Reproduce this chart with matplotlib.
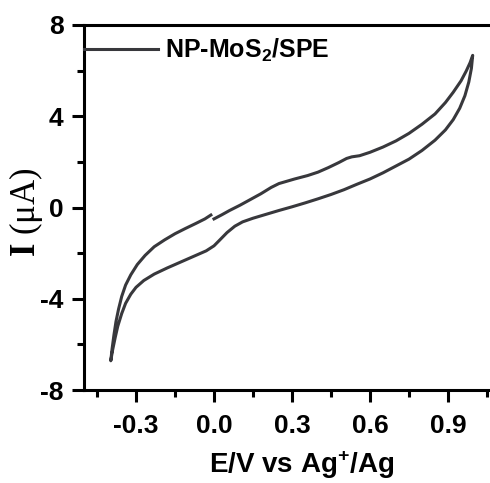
import matplotlib
matplotlib.use("Agg")
import matplotlib.pyplot as plt
from matplotlib.ticker import MultipleLocator, FormatStrFormatter

plt.rcParams['font.family'] = ['Liberation Sans', 'DejaVu Sans']
plt.rcParams['font.weight'] = 'bold'
plt.rcParams['mathtext.fontset'] = 'custom'
plt.rcParams['mathtext.rm'] = 'Liberation Serif'
plt.rcParams['mathtext.bf'] = 'Liberation Serif:bold'
plt.rcParams['mathtext.sf'] = 'Liberation Sans:bold'

# Cyclic voltammogram, one continuous scan (start at 0 V -> 1.0 V -> -0.4 V -> 0 V)
forward_E = [0.00, 0.03, 0.06, 0.10, 0.14, 0.18, 0.22, 0.25, 0.28, 0.31, 0.36,
             0.40, 0.44, 0.48, 0.51, 0.53, 0.56, 0.60, 0.65, 0.70, 0.75, 0.80,
             0.85, 0.89, 0.92, 0.95, 0.97, 0.985, 0.995]
forward_I = [-0.50, -0.32, -0.13, 0.10, 0.35, 0.60, 0.88, 1.05, 1.15, 1.25, 1.40,
             1.55, 1.75, 1.97, 2.15, 2.22, 2.27, 2.42, 2.65, 2.92, 3.25, 3.65,
             4.10, 4.60, 5.05, 5.55, 5.98, 6.35, 6.67]
reverse_E = [0.99, 0.98, 0.965, 0.945, 0.92, 0.89, 0.85, 0.80, 0.75, 0.70, 0.65,
             0.60, 0.55, 0.50, 0.45, 0.40, 0.35, 0.30, 0.25, 0.20, 0.15, 0.11,
             0.08, 0.05, 0.02, 0.00, -0.03, -0.08, -0.13, -0.18, -0.23, -0.27,
             -0.30, -0.32, -0.34, -0.355, -0.37, -0.38, -0.39, -0.397]
reverse_I = [6.10, 5.50, 4.90, 4.35, 3.85, 3.40, 2.95, 2.50, 2.12, 1.82, 1.52,
             1.25, 1.02, 0.78, 0.57, 0.38, 0.20, 0.03, -0.13, -0.30, -0.47, -0.63,
             -0.82, -1.10, -1.45, -1.68, -1.90, -2.15, -2.40, -2.65, -2.92, -3.20,
             -3.50, -3.80, -4.20, -4.65, -5.20, -5.70, -6.25, -6.72]
return_E = [-0.392, -0.385, -0.377, -0.367, -0.355, -0.34, -0.32, -0.295, -0.265,
            -0.23, -0.19, -0.15, -0.11, -0.07, -0.035, -0.012]
return_I = [-6.20, -5.60, -5.00, -4.45, -3.90, -3.40, -2.95, -2.50, -2.10,
            -1.72, -1.42, -1.15, -0.92, -0.70, -0.50, -0.33]

potential = forward_E + reverse_E + return_E
current = forward_I + reverse_I + return_I

series_label = 'NP-MoS$_\\mathsf{2}$/SPE'
x_label = 'E/V vs Ag$^\\mathsf{+}$/Ag'
y_label = '$\\mathbf{I}$ (\u03bcA)'

W, H = 490, 483
fig = plt.figure(figsize=(W / 100, H / 100), dpi=100)
ax = fig.add_axes([84 / W, (H - 390) / H, 416 / W, 365 / H])

line_color = '#38383c'
ax.plot(potential, current, color=line_color, lw=2.2, label=series_label,
        solid_joinstyle='round')

ax.set_xlim(-0.5, 1.1)
ax.set_ylim(-8, 8)
ax.xaxis.set_minor_locator(MultipleLocator(0.15))
ax.yaxis.set_major_locator(MultipleLocator(4))
ax.yaxis.set_minor_locator(MultipleLocator(2))
ax.set_xticks([-0.3, 0.0, 0.3, 0.6, 0.9])
ax.xaxis.set_major_formatter(FormatStrFormatter('%.1f'))
ax.yaxis.set_major_formatter(FormatStrFormatter('%d'))

for s in ['left', 'bottom', 'top']:
    ax.spines[s].set_linewidth(2.2)
ax.spines['right'].set_visible(False)

ax.tick_params(which='major', direction='out', length=8.6, width=2.2,
               labelsize=19, pad=6)
ax.tick_params(axis='x', which='major', pad=9)
ax.tick_params(which='minor', direction='out', length=5, width=2.2)
ax.tick_params(top=False, right=False, which='both')
for lab in ax.get_xticklabels() + ax.get_yticklabels():
    lab.set_fontweight('bold')

ax.set_xlabel(x_label, fontsize=20, fontweight='bold')
ax.xaxis.set_label_coords((302 - 84) / 416, -(465 - 390) / 365)
ax.xaxis.label.set_va('center')
ax.set_ylabel(y_label, fontsize=25, fontfamily='Liberation Serif', fontweight='normal')
ax.yaxis.set_label_coords(-(84 - 26) / 416, (390 - 212) / 365)
ax.yaxis.label.set_va('center')

leg = ax.legend(loc='upper left', bbox_to_anchor=(0, 0.968), frameon=False,
                borderpad=0, borderaxespad=0, handlelength=2.95,
                handletextpad=0.3, prop={'family': 'Liberation Sans',
                                         'weight': 'bold', 'size': 18})

fig.savefig('out.png', dpi=100)
